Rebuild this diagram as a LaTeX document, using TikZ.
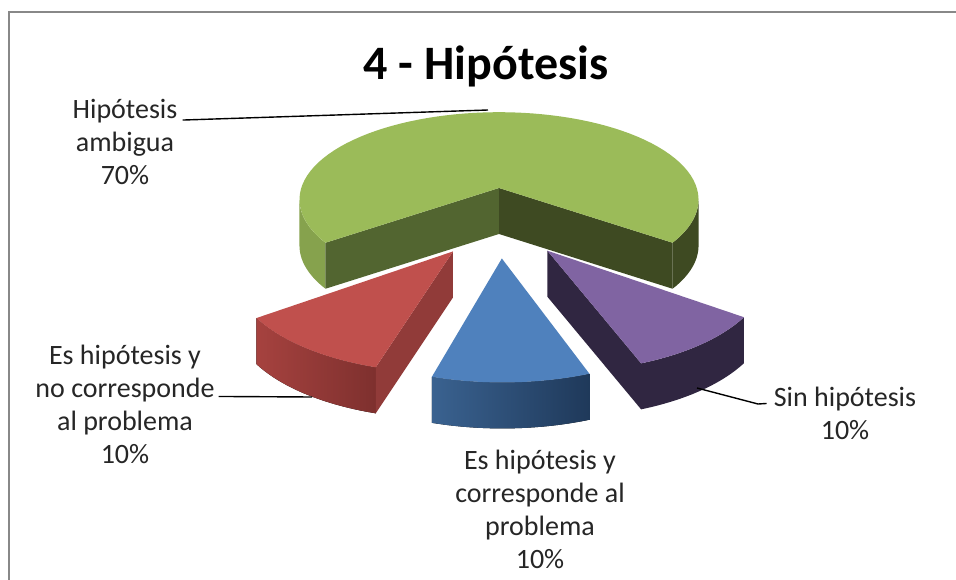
\documentclass[tikz,border=0pt]{standalone}
\usepackage{fontspec}
\setmainfont{Carlito}

\definecolor{greentop}{HTML}{9BBB59}
\definecolor{greenside}{HTML}{86A24D}
\definecolor{greencut}{HTML}{526530}
\definecolor{greendark}{HTML}{3E4A22}
\definecolor{redtop}{HTML}{C0504D}
\definecolor{redsidel}{HTML}{A6423F}
\definecolor{redsider}{HTML}{7E302E}
\definecolor{redcut}{HTML}{913B39}
\definecolor{bluetop}{HTML}{4F81BD}
\definecolor{bluesidel}{HTML}{3A6290}
\definecolor{bluesider}{HTML}{1F395A}
\definecolor{purpletop}{HTML}{8064A2}
\definecolor{purpledark}{HTML}{302641}
\definecolor{framegray}{HTML}{888888}

\tikzset{
  declare function={
    sx(\X,\Z)=499+208*\X/(1+0.14*\Z);
    sy(\X,\Z)=221.4-95*\Z/(1+0.14*\Z);
    rimx(\a,\b,\w)=sx(\a+cos(\w),\b+sin(\w));
    rimy(\a,\b,\w)=sy(\a+cos(\w),\b+sin(\w));
  },
  leader/.style={line width=1.4pt},
  pielabel/.style={align=center, inner sep=0pt, text=black!85, font=\fontsize{28}{33}\selectfont},
}

% outer wall of a slice: centre x, centre z, from, to, fill
\newcommand{\piewall}[5]{%
  \fill[#5] plot[domain=#3:#4, samples=30, variable=\ang] ({rimx(#1,#2,\ang)},{rimy(#1,#2,\ang)})
    -- plot[domain=#4:#3, samples=30, variable=\ang] ({rimx(#1,#2,\ang)},{rimy(#1,#2,\ang)+46}) -- cycle;}
% cut face of a slice: centre x, centre z, angle, fill
\newcommand{\piecut}[4]{%
  \fill[#4] ({sx(#1,#2)},{sy(#1,#2)}) -- ({rimx(#1,#2,#3)},{rimy(#1,#2,#3)}) -- ++(0,46)
    -- ({sx(#1,#2)},{sy(#1,#2)+46}) -- cycle;}
% top face of a slice: centre x, centre z, from, to, fill
\newcommand{\pietop}[5]{%
  \fill[#5] ({sx(#1,#2)},{sy(#1,#2)})
    -- plot[domain=#3:#4, samples=80, variable=\ang] ({rimx(#1,#2,\ang)},{rimy(#1,#2,\ang)}) -- cycle;}

\begin{document}
\begin{tikzpicture}[x=1pt, y=-1pt]
    \useasboundingbox[fill=white] (0,0) rectangle (956,580);
    % chart frame
    \draw[framegray, line width=2pt] (8.5,580) -- (8.5,12.5) -- (956,12.5);
    \node[font=\fontsize{48}{56}\selectfont\bfseries, anchor=base] (title) at (486,80) {4 - Hipótesis};

    % green slice (70%)
    \piewall{0}{0.37}{188}{216}{greenside}
    \piewall{0}{0.37}{324}{352}{greendark}
    \piecut{0}{0.37}{216}{greencut}
    \piecut{0}{0.37}{324}{greendark}
    \pietop{0}{0.37}{-36}{216}{greentop}
    % red slice
    \piewall{-0.212}{-0.303}{216}{254}{left color=redsidel, right color=redsider}
    \piecut{-0.212}{-0.303}{254}{redcut}
    \pietop{-0.212}{-0.303}{216}{254}{redtop}
    % purple slice
    \piecut{0.223}{-0.296}{290}{purpledark}
    \piewall{0.223}{-0.296}{290}{324}{purpledark}
    \pietop{0.223}{-0.296}{290}{324}{purpletop}
    % blue slice
    \piewall{0.013}{-0.37}{254}{290}{left color=bluesidel, right color=bluesider}
    \pietop{0.013}{-0.37}{254}{290}{bluetop}

    % labels
    \node[pielabel] (amb) at (125,142) {Hipótesis\\ambigua\\70\%};
    \node[pielabel] (noc) at (125,404) {Es hipótesis y\\no corresponde\\al problema\\10\%};
    \node[pielabel] (cor) at (540,509) {Es hipótesis y\\corresponde al\\problema\\10\%};
    \node[pielabel] (sin) at (845,413) {Sin hipótesis\\10\%};

    % leader lines
    \coordinate (ambpt) at (488,110);
    \coordinate (nocpt) at (312,397);
    \coordinate (sinpt) at (697,388);
    \draw[leader] ([shift={(5,21)}]amb.north east) -- (ambpt);
    \draw[leader] ([shift={(4,52)}]noc.north east) -- (nocpt);
    \draw[leader] (sinpt) -- (758,404) -- ([shift={(-7,17)}]sin.north west);
\end{tikzpicture}
\end{document}
